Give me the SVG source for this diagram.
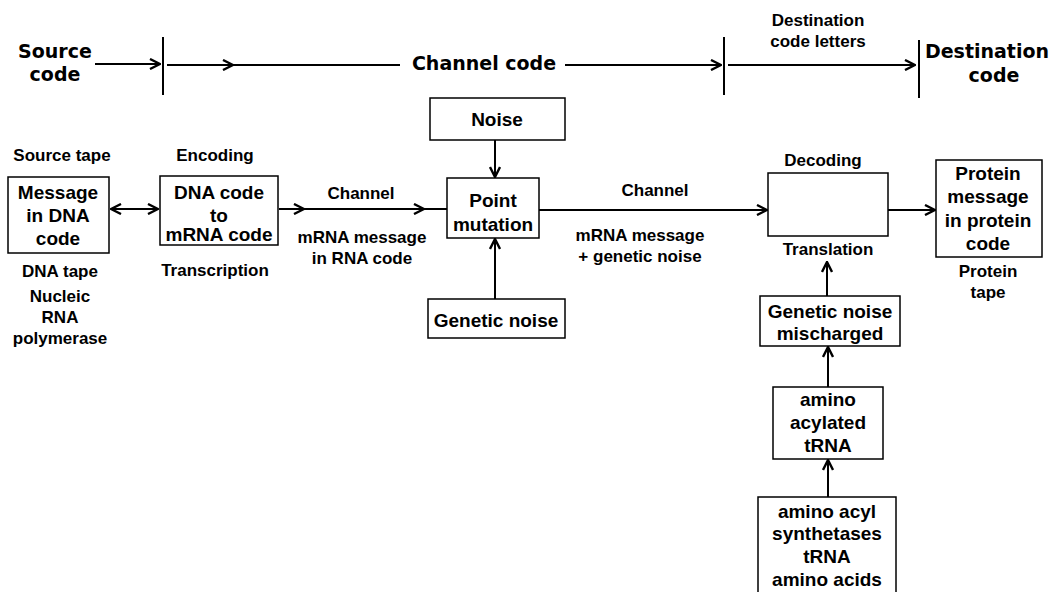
<svg xmlns="http://www.w3.org/2000/svg" width="1060" height="592" viewBox="0 0 1060 592">
<defs>
<style>
.big{font-family:"DejaVu Sans",Verdana,sans-serif;font-weight:bold;font-size:19px;text-anchor:middle;fill:#000}
.lbl{font-family:"Liberation Sans",Arial,sans-serif;font-weight:bold;font-size:17px;text-anchor:middle;fill:#000}
.box{font-family:"Liberation Sans",Arial,sans-serif;font-weight:bold;font-size:19px;text-anchor:middle;fill:#000}
rect{fill:#fff;stroke:#000;stroke-width:1.5}
.ln{stroke:#000;stroke-width:2;fill:none}
.bar{stroke:#000;stroke-width:2}
</style>
<marker id="ah" viewBox="0 0 12 12" refX="11" refY="6" markerWidth="12" markerHeight="12" markerUnits="userSpaceOnUse" orient="auto-start-reverse">
<path d="M1,1 L11,6 L1,11" fill="none" stroke="#000" stroke-width="2.4"/>
</marker>
</defs>
<rect x="0" y="0" width="1060" height="592" style="fill:#fff;stroke:none"/>

<g id="header">
<text class="big" x="55" y="58">Source</text>
<text class="big" x="55" y="81">code</text>
<text class="big" x="484" y="70">Channel code</text>
<text class="lbl" x="818" y="26">Destination</text>
<text class="lbl" x="818" y="47">code letters</text>
<text class="big" x="987" y="58">Destination</text>
<text class="big" x="994" y="82">code</text>
<line class="bar" x1="163" y1="37" x2="163" y2="95"/>
<line class="bar" x1="724" y1="37" x2="724" y2="95"/>
<line class="bar" x1="919" y1="40" x2="919" y2="98"/>
</g>

<g id="labels">
<text class="lbl" x="62" y="161">Source tape</text>
<text class="lbl" x="215" y="161">Encoding</text>
<text class="lbl" x="60" y="277">DNA tape</text>
<text class="lbl" x="215" y="276">Transcription</text>
<text class="lbl" x="60" y="302">Nucleic</text>
<text class="lbl" x="60" y="323">RNA</text>
<text class="lbl" x="60" y="344">polymerase</text>
<text class="lbl" x="361" y="199">Channel</text>
<text class="lbl" x="362" y="243">mRNA message</text>
<text class="lbl" x="362" y="264">in RNA code</text>
<text class="lbl" x="655" y="196">Channel</text>
<text class="lbl" x="640" y="241">mRNA message</text>
<text class="lbl" x="640" y="262">+ genetic noise</text>
<text class="lbl" x="823" y="166">Decoding</text>
<text class="lbl" x="828" y="255">Translation</text>
<text class="lbl" x="988" y="277">Protein</text>
<text class="lbl" x="988" y="298">tape</text>
</g>

<g id="message-dna">
<rect x="8" y="177" width="101" height="76"/>
<text class="box" x="58" y="199">Message</text>
<text class="box" x="58" y="222">in DNA</text>
<text class="box" x="58" y="245">code</text>
</g>

<g id="dna-mrna">
<rect x="160" y="176" width="118" height="69"/>
<text class="box" x="219" y="199">DNA code</text>
<text class="box" x="219" y="222">to</text>
<text class="box" x="219" y="241">mRNA code</text>
</g>

<g id="noise">
<rect x="430" y="98" width="135" height="42"/>
<text class="box" x="497" y="126">Noise</text>
</g>

<g id="point-mutation">
<rect x="447" y="178" width="92" height="60"/>
<text class="box" x="493" y="207">Point</text>
<text class="box" x="493" y="231">mutation</text>
</g>

<g id="genetic-noise">
<rect x="428" y="299" width="137" height="39"/>
<text class="box" x="496" y="327">Genetic noise</text>
</g>

<g id="decoding">
<rect x="768" y="173" width="120" height="63"/>
</g>

<g id="protein">
<rect x="936" y="160" width="106" height="97"/>
<text class="box" x="988" y="180">Protein</text>
<text class="box" x="988" y="203">message</text>
<text class="box" x="988" y="227">in protein</text>
<text class="box" x="988" y="250">code</text>
</g>

<g id="mischarged">
<rect x="760" y="296" width="140" height="50"/>
<text class="box" x="830" y="318">Genetic noise</text>
<text class="box" x="830" y="340">mischarged</text>
</g>

<g id="acylated">
<rect x="773" y="387" width="110" height="72"/>
<text class="box" x="828" y="406">amino</text>
<text class="box" x="828" y="429">acylated</text>
<text class="box" x="828" y="452">tRNA</text>
</g>

<g id="synthetases">
<rect x="758" y="497" width="138" height="110"/>
<text class="box" x="827" y="518">amino acyl</text>
<text class="box" x="827" y="540">synthetases</text>
<text class="box" x="827" y="563">tRNA</text>
<text class="box" x="827" y="586">amino acids</text>
</g>

<g id="connectors">
<line class="ln" x1="95" y1="64" x2="160" y2="64" marker-end="url(#ah)"/>
<line class="ln" x1="167" y1="65" x2="233" y2="65" marker-end="url(#ah)"/>
<line class="ln" x1="233" y1="65" x2="400" y2="65"/>
<line class="ln" x1="565" y1="65" x2="721" y2="65" marker-end="url(#ah)"/>
<line class="ln" x1="728" y1="65" x2="915" y2="65" marker-end="url(#ah)"/>
<line class="ln" x1="111" y1="209" x2="158" y2="209" marker-start="url(#ah)" marker-end="url(#ah)"/>
<line class="ln" x1="279" y1="209" x2="304" y2="209" marker-end="url(#ah)"/>
<line class="ln" x1="304" y1="209" x2="424" y2="209" marker-end="url(#ah)"/>
<line class="ln" x1="424" y1="209" x2="447" y2="209"/>
<line class="ln" x1="495" y1="140" x2="495" y2="177" marker-end="url(#ah)"/>
<line class="ln" x1="495" y1="299" x2="495" y2="239" marker-end="url(#ah)"/>
<line class="ln" x1="539" y1="210" x2="767" y2="210" marker-end="url(#ah)"/>
<line class="ln" x1="888" y1="210" x2="935" y2="210" marker-end="url(#ah)"/>
<line class="ln" x1="827" y1="296" x2="827" y2="262" marker-end="url(#ah)"/>
<line class="ln" x1="828" y1="387" x2="828" y2="347" marker-end="url(#ah)"/>
<line class="ln" x1="828" y1="497" x2="828" y2="460" marker-end="url(#ah)"/>
</g>
</svg>
